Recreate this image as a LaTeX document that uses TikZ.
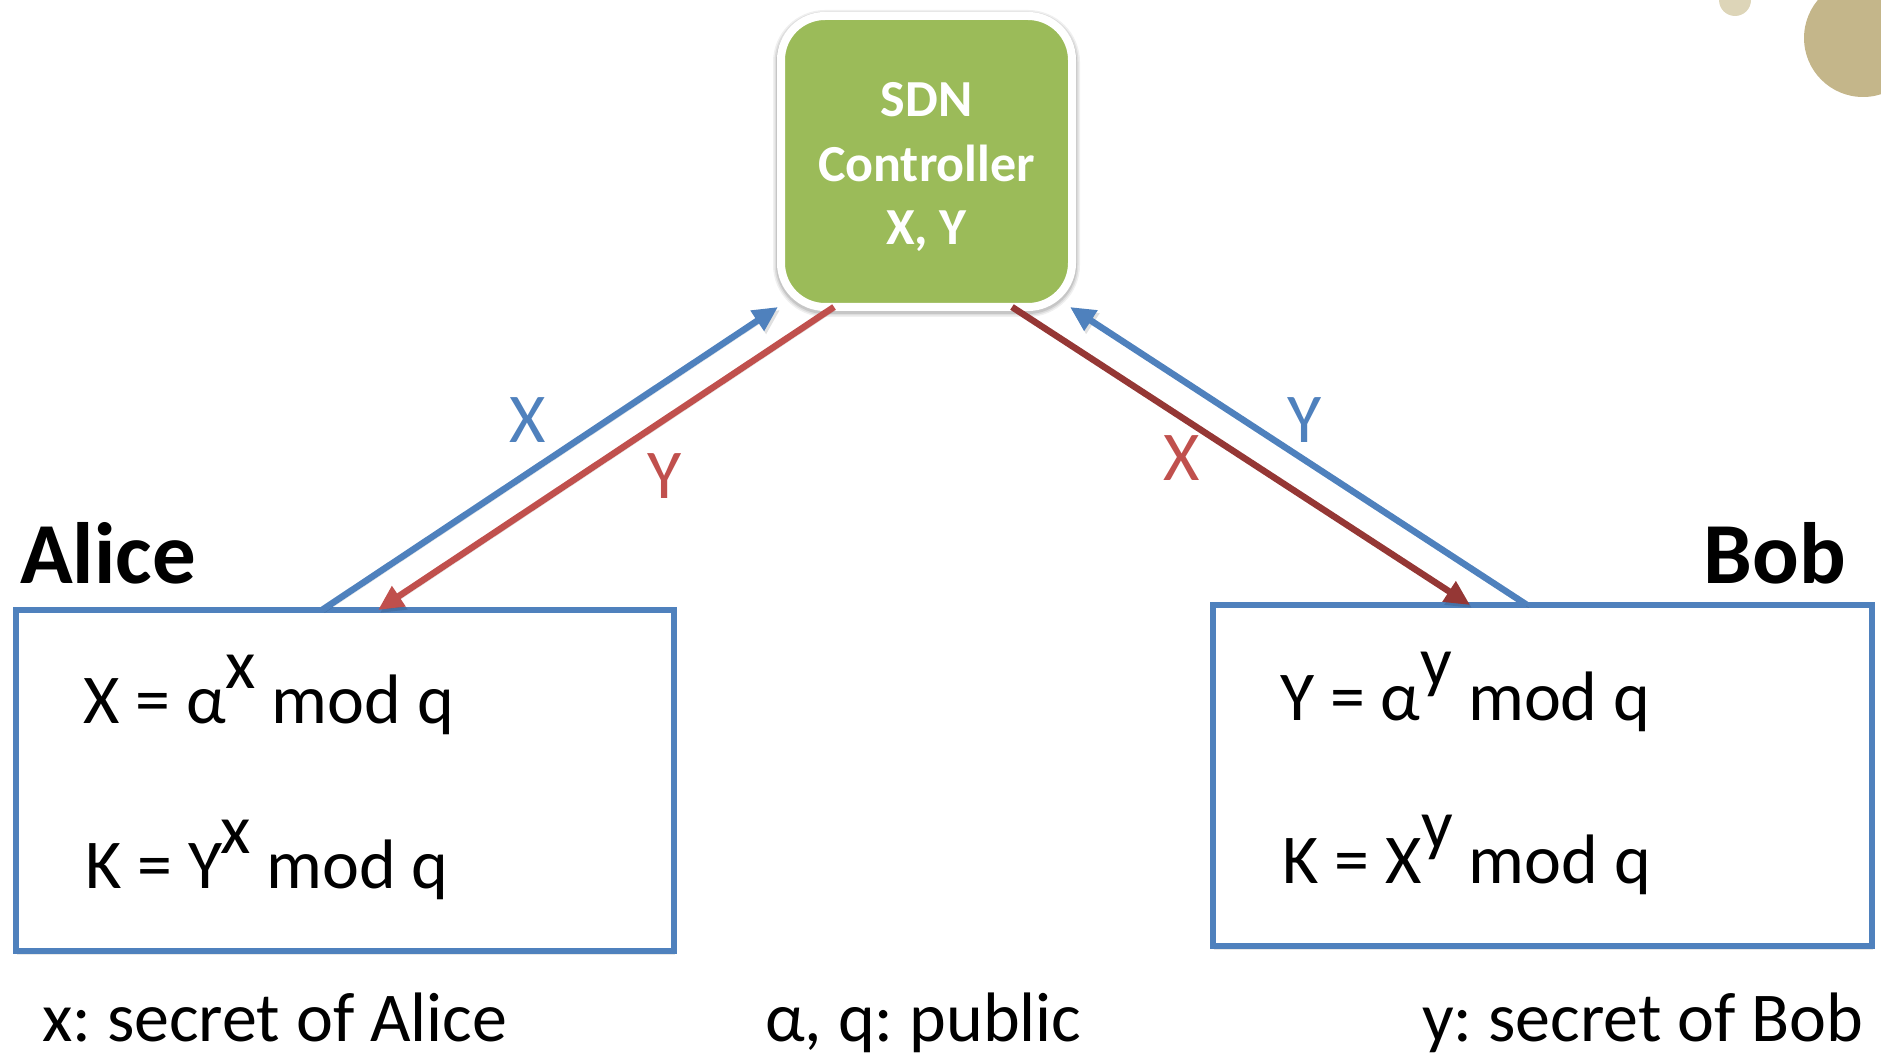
\documentclass[tikz,border=0pt]{standalone}
\usepackage{fontspec}
\setmainfont{Carlito}
\frenchspacing
\usetikzlibrary{arrows.meta,shadows,calc}

\definecolor{msblue}{HTML}{4F81BD}
\definecolor{msred}{HTML}{C0504D}
\definecolor{msdarkred}{HTML}{953735}
\definecolor{msgreen}{HTML}{9BBB59}
\definecolor{mstan}{HTML}{C4B68A}
\definecolor{mstanlight}{HTML}{DDD5B8}

\tikzset{
  partybox/.style={draw=msblue, line width=5.5pt, fill=white, outer sep=0pt,
    inner sep=0pt, rectangle,
    drop shadow={opacity=0.18, shadow xshift=1pt, shadow yshift=-4pt}},
  ctrlbox/.style={draw=white, line width=8pt, fill=msgreen, outer sep=0pt,
    inner sep=0pt, rounded corners=44pt, minimum width=291pt, minimum height=291pt,
    preaction={draw=black, opacity=0.06, line width=16pt, transform canvas={shift={(0pt,-2pt)}}},
    preaction={draw=black, opacity=0.08, line width=13pt, transform canvas={shift={(0pt,-2pt)}}},
    preaction={draw=black, opacity=0.10, line width=10pt, transform canvas={shift={(0pt,-2pt)}}}},
  ctrltext/.style={text=white, font=\bfseries\fontsize{52}{62}\selectfont,
    inner sep=0pt, anchor=base},
  partyname/.style={font=\bfseries\fontsize{87}{100}\selectfont, inner sep=0pt},
  formula/.style={font=\fontsize{70}{84}\selectfont, inner sep=0pt, anchor=base west},
  note/.style={font=\fontsize{70}{84}\selectfont, inner sep=0pt, anchor=base west},
  msglabel/.style={font=\fontsize{70}{84}\selectfont, inner sep=0pt},
  msg/.style={line width=6.5pt, -{Triangle[length=25pt,width=23pt]},
    preaction={draw=black, opacity=0.12, transform canvas={shift={(2pt,-3pt)}}}},
}

\begin{document}
\begin{tikzpicture}[x=1pt, y=-1pt]
\useasboundingbox (0,0) rectangle (1881,1056);

% decorative discs in the top right corner
\begin{scope}
  \clip (0,0) rectangle (1881,1056);
  \fill[mstanlight] (1735,0) circle (16pt);
  \fill[mstan] (1863,38) circle (59pt);
\end{scope}

% controller
\node[ctrlbox] (ctrl) at (926.5,161.5) {};
\node[ctrltext] (ctrl1) at (926.5,117) {SDN};
\node[ctrltext] (ctrl2) at (926.5,182) {Controller};
\node[ctrltext] (ctrl3) at (926.5,245) {X, Y};

% parties
\node[partybox, minimum width=658pt, minimum height=341pt] (alice) at (345,780.5) {};
\node[partybox, minimum width=659pt, minimum height=341pt] (bob) at (1542.5,775.5) {};

\node[partyname, anchor=base west] (alicename) at (20,583) {Alice};
\node[partyname, anchor=base east] (bobname) at (1846,583) {Bob};

\node[formula] (af1) at (83,723) {X = α\raisebox{35pt}{x} mod q};
\node[formula] (af2) at (85,888) {K = Y\kern-2pt\raisebox{35pt}{x} mod q};
\node[formula] (bf1) at (1280,720) {Y = α\raisebox{35pt}{y} mod q};
\node[formula] (bf2) at (1282,883) {K = X\raisebox{35pt}{y} mod q};

% exchanged values
\draw[msg, draw=msblue, fill=msblue]
  ($(alice.north west)!(322,0)!(alice.north east)$) --
  ($(ctrl.south west)!(778,0)!(ctrl.south east)$);
\draw[msg, draw=msred, fill=msred]
  ($(ctrl.south west)!(834,0)!(ctrl.south east)$) --
  ($(alice.north west)!(378,0)!(alice.north east)$);
\draw[msg, draw=msdarkred, fill=msdarkred]
  ($(ctrl.south west)!(1012,0)!(ctrl.south east)$) --
  ($(bob.north west)!(1470,0)!(bob.north east)$);
\draw[msg, draw=msblue, fill=msblue]
  ($(bob.north west)!(1527,0)!(bob.north east)$) --
  ($(ctrl.south west)!(1070,0)!(ctrl.south east)$);

\node[msglabel, text=msblue] (lx) at (528,420) {X};
\node[msglabel, text=msred] (ly) at (665,476) {Y};
\node[msglabel, text=msred] (rx) at (1182,458) {X};
\node[msglabel, text=msblue] (ry) at (1305,420) {Y};

% legend
\node[note] (n1) at (42,1041) {x: secret of Alice};
\node[note] (n2) at (765,1041) {α, q: public};
\node[note] (n3) at (1422,1041) {y: secret of Bob};
\end{tikzpicture}
\end{document}
